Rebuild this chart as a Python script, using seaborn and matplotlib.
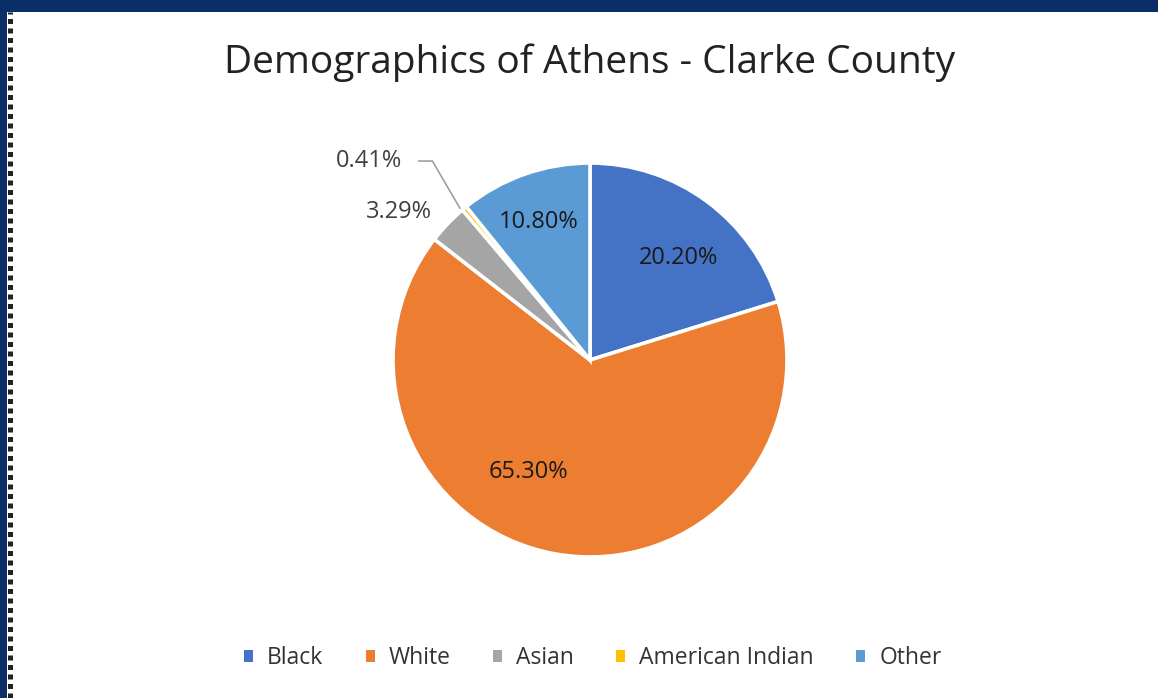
import matplotlib
matplotlib.use("Agg")
import matplotlib.pyplot as plt
import matplotlib.patches as mpatches
from matplotlib.lines import Line2D
import numpy as np
import seaborn as sns

sns.set_theme(style="white")
plt.rcParams["font.family"] = ["Open Sans", "DejaVu Sans"]

# Population shares by group (percent)
categories = ["Black", "White", "Asian", "American Indian", "Other"]
shares = [20.20, 65.30, 3.29, 0.41, 10.80]
colors = ["#4472C4", "#ED7D31", "#A5A5A5", "#FFC000", "#5B9BD5"]
title = "Demographics of Athens - Clarke County"

W, H = 1158, 698
fig = plt.figure(figsize=(W / 100, H / 100), dpi=100)
fig.patch.set_facecolor("white")

# Slide frame: navy top band and left band with a dotted selection edge
navy = "#0A2F68"
fig.patches.append(mpatches.Rectangle((0, 1 - 12 / H), 1, 12 / H, transform=fig.transFigure,
                                      facecolor=navy, edgecolor="none", zorder=0))
fig.patches.append(mpatches.Rectangle((0, 0), 7 / W, 1, transform=fig.transFigure,
                                      facecolor=navy, edgecolor="none", zorder=0))
fig.add_artist(Line2D([9.8 / W, 9.8 / W], [0, 1 - 12 / H], transform=fig.transFigure,
                      color="#222222", lw=3.6, linestyle=(0, (1.0, 0.9)), zorder=1))

# Pie axes centred on the chart area
cx, cy, R = 590, 360, 197
half = 1.5 * R
ax = fig.add_axes([(cx - half) / W, (H - cy - half) / H, 2 * half / W, 2 * half / H])

wedges, _ = ax.pie(shares, colors=colors, startangle=90, counterclock=False,
                   radius=1.0, wedgeprops=dict(edgecolor="white", linewidth=2.6))
ax.set_xlim(-1.5, 1.5)
ax.set_ylim(-1.5, 1.5)
ax.set_aspect("equal")
ax.axis("off")

# Data labels (text comes from the values)
label_pos = {
    "Black": (0.45, 0.52),
    "White": (-0.31, -0.57),
    "Other": (-0.26, 0.70),
    "Asian": (-0.97, 0.75),
    "American Indian": (-1.12, 1.01),
}
for cat, val in zip(categories, shares):
    x, y = label_pos[cat]
    outside = cat in ("Asian", "American Indian")
    ax.text(x, y, f"{val:.2f}%", ha="center", va="center", fontsize=17,
            color="#404040" if outside else "#1a1a1a")

# Leader line for the thin American Indian slice
ax.plot([-0.87, -0.80, -0.66], [1.01, 1.01, 0.77], color="#A0A0A0", lw=1.2)

fig.suptitle(title, x=cx / W, y=1 - 63 / H, va="center", fontsize=28, color="#222222")

handles = [mpatches.Patch(facecolor=c, edgecolor="none") for c in colors]
fig.legend(handles, categories, loc="center", bbox_to_anchor=(0.512, 1 - 658 / H),
           ncol=5, frameon=False, fontsize=16.5, handlelength=0.4, handleheight=0.4,
           handletextpad=0.6, columnspacing=1.85, labelcolor="#333333")

fig.savefig("out.png", dpi=100, facecolor="white")
